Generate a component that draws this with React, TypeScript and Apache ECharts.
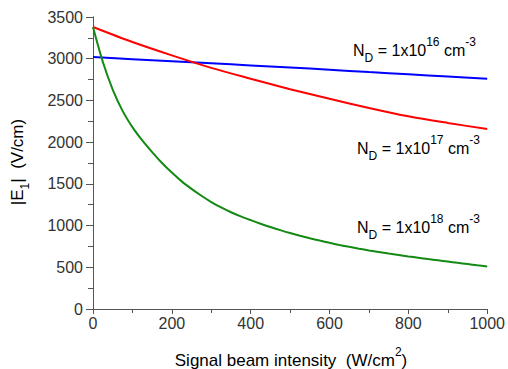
import React, { useEffect, useRef } from "react";
import * as echarts from "echarts";

const xGrid = [0, 100, 200, 300, 400, 500, 600, 700, 800, 900, 1000];
const blueValues = [3020, 2995, 2970, 2945, 2920, 2895, 2868, 2840, 2813, 2786, 2760];
const redValues = [3380, 3200, 3040, 2890, 2760, 2635, 2520, 2410, 2310, 2230, 2157];
const greenX = [
  0, 25, 50, 75, 100, 125, 150, 175, 200, 225, 250, 275, 300, 325, 350, 375, 400, 425, 450, 475, 500,
  525, 550, 575, 600, 625, 650, 675, 700, 725, 750, 775, 800, 825, 850, 875, 900, 925, 950, 975, 1000,
];
const greenValues = [
  3380, 2960, 2630, 2375, 2180, 2020, 1880, 1750, 1635, 1530, 1440, 1357, 1282, 1217, 1160, 1110, 1065, 1022, 982, 945, 910,
  878, 848, 820, 793, 768, 745, 723, 702, 683, 664, 647, 630, 614, 598, 583, 568, 553, 539, 524, 510,
];

const labels16 = ["N", "D", " = 1x10", "16", " cm", "-3"];
const labels17 = ["N", "D", " = 1x10", "17", " cm", "-3"];
const labels18 = ["N", "D", " = 1x10", "18", " cm", "-3"];

const FONT = "'Liberation Sans', Arial, sans-serif";
const TXT = "#333333";
const AX = "#555555";

const rich = {
  n: { fontSize: 16, fontFamily: FONT, color: TXT, lineHeight: 28, verticalAlign: "middle" },
  t: { fontSize: 17, fontFamily: FONT, color: TXT, lineHeight: 28, verticalAlign: "middle" },
  sup: { fontSize: 12, fontFamily: FONT, color: TXT, lineHeight: 14, verticalAlign: "top" },
  sub: { fontSize: 12, fontFamily: FONT, color: TXT, lineHeight: 14, verticalAlign: "bottom" },
};

function ndLabel(p: string[]) {
  return `{n|${p[0]}}{sub|${p[1]}}{n|${p[2]}}{sup|${p[3]}}{n|${p[4]}}{sup|${p[5]}}`;
}

export default function App() {
  const ref = useRef<HTMLDivElement>(null);
  useEffect(() => {
    if (!ref.current) return;
    const chart = echarts.init(ref.current, null, { renderer: "svg" });
    const zip = (xs: number[], ys: number[]) => xs.map((x, i) => [x, ys[i]]);
    chart.setOption({
      animation: false,
      backgroundColor: "#ffffff",
      grid: { left: 93, top: 17, right: 19, bottom: 60, containLabel: false },
      xAxis: [
        {
          type: "value", min: 0, max: 1000, interval: 200, position: "bottom",
          axisLine: { show: true, lineStyle: { color: AX, width: 1 } },
          axisTick: { show: true, inside: false, length: 5, lineStyle: { color: AX } },
          minorTick: { show: true, splitNumber: 2, length: 3, lineStyle: { color: AX } },
          axisLabel: { color: TXT, fontSize: 16, fontFamily: FONT, margin: 6, formatter: (v: number) => String(v) },
          splitLine: { show: false },
        },
        {
          type: "value", min: 0, max: 1000, interval: 200, position: "top",
          axisLine: { show: true, lineStyle: { color: AX, width: 1 } },
          axisTick: { show: true, inside: true, length: 4, lineStyle: { color: AX } },
          minorTick: { show: true, splitNumber: 2, length: 4, lineStyle: { color: AX } },
          axisLabel: { show: false },
          splitLine: { show: false },
        },
      ],
      yAxis: [
        {
          type: "value", min: 0, max: 3500, interval: 500, position: "left",
          axisLine: { show: true, lineStyle: { color: AX, width: 1 } },
          axisTick: { show: true, inside: false, length: 7, lineStyle: { color: AX } },
          minorTick: { show: true, splitNumber: 2, length: 3, lineStyle: { color: AX } },
          axisLabel: { color: TXT, fontSize: 16, fontFamily: FONT, margin: 10, formatter: (v: number) => String(v) },
          splitLine: { show: false },
        },
        {
          type: "value", min: 0, max: 3500, interval: 500, position: "right",
          axisLine: { show: true, lineStyle: { color: AX, width: 1 } },
          axisTick: { show: true, inside: true, length: 5, lineStyle: { color: AX } },
          minorTick: { show: true, splitNumber: 2, length: 5, lineStyle: { color: AX } },
          axisLabel: { show: false },
          splitLine: { show: false },
        },
      ],
      series: [
        {
          type: "line", name: "1e16", data: zip(xGrid, blueValues), showSymbol: false, smooth: 0.3,
          lineStyle: { color: "#0000ff", width: 2 }, itemStyle: { color: "#0000ff" },
        },
        {
          type: "line", name: "1e17", data: zip(xGrid, redValues), showSymbol: false, smooth: 0.3,
          lineStyle: { color: "#ff0000", width: 2 }, itemStyle: { color: "#ff0000" },
        },
        {
          type: "line", name: "1e18", data: zip(greenX, greenValues), showSymbol: false,
          smooth: 0.3,
          lineStyle: { color: "#138a13", width: 2 }, itemStyle: { color: "#138a13" },
        },
      ],
      graphic: [
        { type: "text", right: 508 - 476, top: 36, style: { text: ndLabel(labels16), rich, align: "right" } },
        { type: "text", right: 508 - 480, top: 134, style: { text: ndLabel(labels17), rich, align: "right" } },
        { type: "text", right: 508 - 480, top: 213, style: { text: ndLabel(labels18), rich, align: "right" } },
        {
          type: "text", x: 291, y: 360,
          style: {
            text: "{t|Signal beam intensity  (W/cm}{sup|2}{t|)}", rich,
            align: "center", verticalAlign: "middle",
          },
        },
        {
          type: "text", x: 17, y: 162, rotation: Math.PI / 2,
          style: {
            text: "{t||E}{sub|1}{t||  (V/cm)}", rich,
            align: "center", verticalAlign: "middle",
          },
        },
      ],
    });
    return () => chart.dispose();
  }, []);
  return <div ref={ref} style={{ width: 508, height: 369, position: "absolute", left: 0, top: 0 }} />;
}
